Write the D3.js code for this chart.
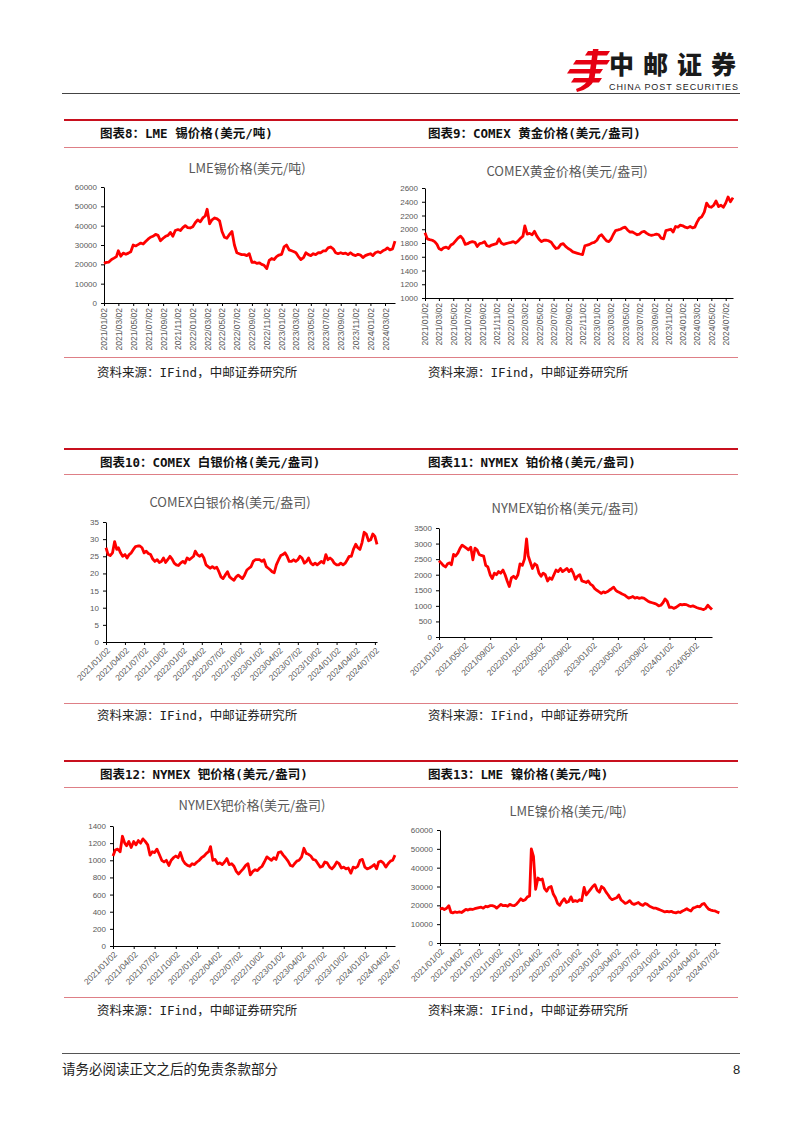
<!DOCTYPE html>
<html>
<head>
<meta charset="utf-8">
<script src="https://cdn.jsdelivr.net/npm/d3@7"></script>
<style>
  body { margin: 0; background: #fff; }
  svg { display: block; }
</style>
</head>
<body>
<script>
// prices, 3 samples a month (2nd, 12th, 22nd) starting 2021-01
const tinPrice = [
  20500, 21000, 21200,  22500, 23200, 24000,  27000, 24200, 25800,  25200, 25800, 26500,
  30000, 29500, 30200,  31000, 30500, 31800,  33000, 34000, 34500,  35500, 35000, 32200,
  33500, 34500, 35000,  36500, 34500, 37500,  38000, 37500, 39000,  40000, 39000, 38800,
  39500, 41500, 43000,  42000, 44000, 45000,  48500, 41000, 43000,  44000, 43500, 42500,
  37000, 34000, 33500,  35500, 37000, 30000,  26000, 25500, 25000,  25000, 24500, 25500,
  21000, 21200, 20500,  20800, 20000, 19500,  17800, 22000, 23000,  22500, 24000, 24800,
  25200, 29000, 30000,  27500, 27000, 26500,  26000, 24000, 22500,  23500, 26000, 25000,
  24500, 25500, 25000,  26000, 26000, 27000,  27000, 28500, 29000,  28000, 26000, 25500,
  26000, 25500, 25800,  25000, 26000, 25000,  24500, 25200, 24800,  23500, 24500, 25000,
  25500, 24500, 26000,  26500, 26000, 27000,  27500, 28500, 27500,  28000, 32000
];
const goldPrice = [
  1950, 1860, 1850,  1840, 1820, 1780,  1720, 1700, 1730,  1740, 1720, 1770,
  1790, 1830, 1870,  1900, 1860, 1780,  1790, 1810, 1820,  1810, 1750, 1790,
  1800, 1820, 1760,  1750, 1770, 1780,  1790, 1860, 1800,  1780, 1790, 1800,
  1810, 1820, 1800,  1830, 1870, 1900,  2050, 1930, 1940,  1920, 1970, 1900,
  1850, 1820, 1840,  1840, 1830, 1810,  1760, 1720, 1730,  1780, 1790, 1750,
  1720, 1700, 1670,  1660, 1650, 1640,  1630, 1760, 1770,  1780, 1800, 1810,
  1840, 1900, 1920,  1870, 1830, 1820,  1850, 1920, 1980,  1990, 2000, 2020,
  2030, 1990, 1960,  1960, 1940, 1920,  1930, 1960, 1970,  1940, 1920, 1910,
  1920, 1930, 1920,  1870, 1860, 1980,  1990, 2000, 1960,  2040, 2030, 2060,
  2050, 2030, 2020,  2040, 2020, 2030,  2100, 2160, 2180,  2250, 2380, 2330,
  2320, 2350, 2410,  2330, 2350, 2320,  2380, 2470, 2400,  2460
];
const silverPrice = [
  27.5, 25.5, 25.2,  26.0, 29.3, 27.0,  27.5, 26.0, 25.0,  25.5, 24.5, 25.5,
  26.0, 27.0, 27.8,  28.0, 28.0, 27.5,  26.0, 26.5, 25.8,  25.5, 24.2, 23.5,
  24.0, 23.2, 23.5,  24.5, 23.2, 24.0,  25.0, 24.2, 23.0,  22.5, 22.3, 23.0,
  23.5, 23.0, 24.5,  24.0, 24.5, 25.0,  26.5, 25.5, 25.0,  25.5, 24.5, 22.5,
  22.0, 21.5, 22.0,  21.5, 21.8, 20.5,  19.0, 18.5, 19.5,  20.5, 19.0, 18.5,
  18.0, 19.0, 19.5,  19.0, 18.5, 19.5,  21.0, 21.5, 22.0,  23.5, 24.0, 24.0,
  24.0, 23.5, 24.0,  22.0, 21.5, 21.0,  20.5, 20.2, 22.5,  24.0, 25.2, 25.5,
  26.0, 25.0, 23.5,  23.5, 24.0, 23.5,  24.0, 25.0, 24.5,  23.0, 23.5, 24.5,
  23.0, 22.5, 23.0,  22.5, 23.0, 23.5,  23.0, 25.5, 24.0,  24.5, 24.0, 23.0,
  22.5, 22.5, 23.0,  22.5, 23.0, 24.0,  25.0, 25.0, 27.0,  28.5, 27.5, 27.0,
  29.0, 32.0, 31.5,  29.5, 29.8, 31.5,  30.8, 28.5
];
const platinumPrice = [
  2450, 2380, 2300,  2250, 2350, 2380,  2320, 2650, 2600,  2700, 2850, 2950,
  2900, 2850, 2800,  2880, 2480, 2850,  2800, 2650, 2620,  2600, 2300, 2250,
  2000, 1880, 2050,  2000, 2100, 2050,  2150, 2000, 1800,  1620, 1900, 1950,
  1880, 2000, 2350,  2300, 2500, 3150,  2600, 2400, 2200,  2350, 2300, 2050,
  1950, 2050, 2000,  1800, 1900, 1850,  2000, 2150, 2100,  2200, 2100, 2150,
  2200, 2100, 2180,  2050, 1850, 1950,  2000, 1800, 1780,  1750, 1800, 1700,
  1650, 1550, 1500,  1450, 1400, 1450,  1420, 1450, 1500,  1550, 1600, 1500,
  1450, 1420, 1380,  1350, 1300, 1250,  1270, 1300, 1250,  1270, 1240, 1260,
  1250, 1200, 1150,  1120, 1100, 1080,  1050, 1000, 1020,  1100, 1220, 1150,
  950, 960, 920,  950, 1000, 1050,  1030, 1050, 1040,  1000, 980, 1000,
  970, 940, 920,  900, 880, 920,  1020, 950, 880
];
const palladiumPrice = [
  1050, 1120, 1130,  1100, 1280, 1200,  1170, 1220, 1150,  1220, 1180, 1230,
  1200, 1250, 1220,  1180, 1060, 1100,  1090, 1130, 1070,  1000, 980, 1000,
  940, 1000, 1030,  1050, 1030, 1090,  1000, 960, 940,  930, 960, 950,
  980, 1000, 1030,  1050, 1080, 1100,  1160, 1000, 1010,  960, 970, 950,
  980, 1020, 950,  960, 930, 870,  840, 870, 900,  940, 960, 830,
  870, 890, 880,  910, 930, 980,  1040, 1020, 1000,  1030, 1010, 1090,
  1100, 1060, 1030,  990, 940, 930,  960, 990, 1000,  1040, 1140, 1080,
  1070, 1050, 1010,  1000, 960, 920,  930, 980, 970,  920, 900, 930,
  980, 960, 910,  920, 900, 910,  850, 920, 910,  930, 1000, 1010,
  920, 900, 910,  930, 950, 900,  980, 990, 970,  920, 960, 990,
  1000, 1060
];
const nickelPrice = [
  18000, 18500, 17800,  18500, 19800, 16200,  16000, 16500, 16200,  16500, 16200, 17000,
  17800, 17500, 18000,  17800, 18200, 18500,  18800, 19000, 18500,  19500, 19200, 19800,
  19800, 19500, 18500,  19500, 20500, 19800,  20000, 19500, 20500,  20000, 19800, 20500,
  22000, 23500, 22500,  23000, 24500, 25000,  50000, 46000, 28500,  34500, 33500, 34000,
  29000, 27500, 29500,  30000, 26000, 24000,  21000, 20000, 22000,  23500, 21500, 22000,
  24500, 22000, 22500,  22000, 23000, 22500,  29500, 25500, 27000,  28500, 30000, 31000,
  28000, 27000, 30000,  29000, 27000, 25500,  24000, 23000, 23500,  24000, 25500, 23000,
  22000, 21000, 21500,  22500, 21000, 20500,  21000, 21500, 20500,  20000, 21000, 20500,
  19500, 19000, 18500,  18500, 18000, 17500,  17000, 16500, 16800,  16500, 16800, 16200,
  16000, 16500, 16200,  17000, 17500, 18200,  17500, 17000, 18500,  19000, 19500, 19200,
  20500, 21000, 19500,  18000, 17500, 17200,  17000, 16500, 16000
];

// axis ticks
const tonTicks = [0, 10000, 20000, 30000, 40000, 50000, 60000];
const goldTicks = [1000, 1200, 1400, 1600, 1800, 2000, 2200, 2400, 2600];
const silverTicks = [0, 5, 10, 15, 20, 25, 30, 35];
const platinumTicks = [0, 500, 1000, 1500, 2000, 2500, 3000, 3500];
const palladiumTicks = [0, 200, 400, 600, 800, 1000, 1200, 1400];

const twoMonthDates = ["2021/01/02", "2021/03/02", "2021/05/02", "2021/07/02", "2021/09/02", "2021/11/02",
  "2022/01/02", "2022/03/02", "2022/05/02", "2022/07/02", "2022/09/02", "2022/11/02",
  "2023/01/02", "2023/03/02", "2023/05/02", "2023/07/02", "2023/09/02", "2023/11/02",
  "2024/01/02", "2024/03/02", "2024/05/02", "2024/07/02"];
const tinDates = twoMonthDates.slice(0, 20);
const quarterDates = ["2021/01/02", "2021/04/02", "2021/07/02", "2021/10/02", "2022/01/02", "2022/04/02",
  "2022/07/02", "2022/10/02", "2023/01/02", "2023/04/02", "2023/07/02", "2023/10/02",
  "2024/01/02", "2024/04/02", "2024/07/02"];
const platinumDates = ["2021/01/02", "2021/05/02", "2021/09/02", "2022/01/02", "2022/05/02", "2022/09/02",
  "2023/01/02", "2023/05/02", "2023/09/02", "2024/01/02", "2024/05/02"];

const W = 802, H = 1133;
const cjk = "'Noto Sans CJK SC', sans-serif";
const mono = "'DejaVu Sans Mono', 'Noto Sans CJK SC', monospace";
const num = "'Liberation Sans', Arial, sans-serif";
const parseDay = d3.timeParse("%Y/%m/%d");
const fmtDay = d3.timeFormat("%Y/%m/%d");

const svg = d3.select("body").append("svg").attr("width", W).attr("height", H);

function sampleDate(i) {
  return new Date(2021, Math.floor(i / 3), 2 + (i % 3) * 10);
}

// ---- header ----
const logo = svg.append("g").attr("fill", "#e60012");
[[585, 51, 22], [573, 60, 34], [567, 69, 33], [571, 78, 28]].forEach(b => {
  logo.append("path")
    .attr("d", `M${b[0] + 3},${b[1]}h${b[2]}l-3,4.5h-${b[2]}z`);
});
logo.append("path")
  .attr("d", "M593,49 L598.5,49 L594.5,79 Q591,89 577,92 L576,89 Q587,85 589,77 Z");
svg.append("text").attr("x", 609).attr("y", 74)
  .attr("font-family", cjk).attr("font-weight", 900).attr("font-size", 25)
  .attr("letter-spacing", 9).attr("fill", "#1a1a1a").text("中邮证券");
svg.append("text").attr("x", 609).attr("y", 90)
  .attr("font-family", num).attr("font-size", 9).attr("textLength", 129)
  .attr("fill", "#222").text("CHINA POST SECURITIES");
svg.append("line").attr("x1", 62).attr("x2", 740).attr("y1", 93.5).attr("y2", 93.5)
  .attr("stroke", "#444").attr("stroke-width", 1);

// ---- section frames ----
const sections = [
  { top: 120, sub: 147, bottom: 357, src: 372, titles: ["图表8：LME 锡价格(美元/吨)", "图表9：COMEX 黄金价格(美元/盎司)"] },
  { top: 449, sub: 474, bottom: 703, src: 715, titles: ["图表10：COMEX 白银价格(美元/盎司)", "图表11：NYMEX 铂价格(美元/盎司)"] },
  { top: 761, sub: 787, bottom: 997, src: 1010, titles: ["图表12：NYMEX 钯价格(美元/盎司)", "图表13：LME 镍价格(美元/吨)"] }
];
sections.forEach(s => {
  svg.append("line").attr("x1", 64).attr("x2", 738).attr("y1", s.top).attr("y2", s.top)
    .attr("stroke", "#c8101e").attr("stroke-width", 2);
  [s.sub, s.bottom].forEach(yy => {
    svg.append("line").attr("x1", 64).attr("x2", 738).attr("y1", yy + 0.5).attr("y2", yy + 0.5)
      .attr("stroke", "#de7f86").attr("stroke-width", 1.2);
  });
  [100, 428].forEach((xx, k) => {
    svg.append("text").attr("x", xx).attr("y", s.top + 18)
      .attr("font-family", mono).attr("font-weight", "bold").attr("font-size", 12.5)
      .attr("fill", "#111").text(s.titles[k]);
  });
  [97, 428].forEach(xx => {
    svg.append("text").attr("x", xx).attr("y", s.src + 5)
      .attr("font-family", mono).attr("font-size", 12.5)
      .attr("fill", "#222").text("资料来源：IFind，中邮证券研究所");
  });
});

// ---- charts ----
const charts = [
  { values: tinPrice, title: "LME锡价格(美元/吨)", titleX: 247, titleY: 173,
    left: 104, right: 395, top: 187, bottom: 303, yTicks: tonTicks, xTicks: tinDates, end: "2024/04/12", rot: -90 },
  { values: goldPrice, title: "COMEX黄金价格(美元/盎司)", titleX: 567, titleY: 176,
    left: 425, right: 733, top: 188, bottom: 298, yTicks: goldTicks, xTicks: twoMonthDates, end: "2024/08/02", rot: -90 },
  { values: silverPrice, title: "COMEX白银价格(美元/盎司)", titleX: 230, titleY: 507,
    left: 106, right: 377, top: 522, bottom: 642, yTicks: silverTicks, xTicks: quarterDates, end: "2024/07/12", rot: -45 },
  { values: platinumPrice, title: "NYMEX铂价格(美元/盎司)", titleX: 565, titleY: 513,
    left: 439, right: 712, top: 528, bottom: 637, yTicks: platinumTicks, xTicks: platinumDates, end: "2024/07/22", rot: -45 },
  { values: palladiumPrice, title: "NYMEX钯价格(美元/盎司)", titleX: 252, titleY: 810,
    left: 113, right: 395, top: 826, bottom: 946, yTicks: palladiumTicks, xTicks: quarterDates, end: "2024/05/12", rot: -45, clip: 400 },
  { values: nickelPrice, title: "LME镍价格(美元/吨)", titleX: 568, titleY: 816,
    left: 440, right: 720, top: 830, bottom: 943, yTicks: tonTicks, xTicks: quarterDates, end: "2024/07/25", rot: -45 }
];

charts.forEach((c, ci) => {
  const g = svg.append("g");
  const x = d3.scaleTime()
    .domain([parseDay(c.xTicks[0]), parseDay(c.end)])
    .range([c.left, c.right]);
  const y = d3.scaleLinear()
    .domain([c.yTicks[0], c.yTicks[c.yTicks.length - 1]])
    .range([c.bottom, c.top]);

  g.append("text").attr("x", c.titleX).attr("y", c.titleY).attr("text-anchor", "middle")
    .attr("font-family", cjk).attr("font-size", 13).attr("fill", "#595959").text(c.title);

  const yAxis = g.append("g").attr("transform", `translate(${c.left},0)`)
    .call(d3.axisLeft(y).tickValues(c.yTicks).tickFormat(d3.format("d"))
      .tickSize(3).tickSizeOuter(0).tickPadding(4));

  const xAxis = g.append("g").attr("transform", `translate(0,${c.bottom})`)
    .call(d3.axisBottom(x).tickValues(c.xTicks.map(parseDay)).tickFormat(fmtDay)
      .tickSize(3).tickSizeOuter(0));

  if (c.clip) {
    svg.append("clipPath").attr("id", "clip" + ci)
      .append("rect").attr("x", 0).attr("y", 0).attr("width", c.clip).attr("height", H);
    xAxis.attr("clip-path", `url(#clip${ci})`);
  }

  [yAxis, xAxis].forEach(a => {
    a.select(".domain").attr("stroke", "#000").attr("stroke-width", 1);
    a.selectAll(".tick line").attr("stroke", "#000");
    a.selectAll("text").attr("fill", "#595959").attr("font-family", num);
  });
  yAxis.selectAll("text").attr("font-size", 8);
  xAxis.selectAll("text").attr("font-size", 8.5);

  if (c.rot === -90) {
    xAxis.selectAll("text")
      .attr("x", -5).attr("y", 0).attr("dy", "0.35em")
      .attr("transform", "rotate(-90)").attr("text-anchor", "end");
  } else {
    xAxis.selectAll("text")
      .attr("x", 0).attr("y", 0).attr("dy", "0.35em")
      .attr("transform", "translate(2,7) rotate(-45)").attr("text-anchor", "end");
  }

  const line = d3.line().x(d => x(d.date)).y(d => y(d.v));
  g.append("path")
    .datum(c.values.map((v, i) => ({ date: sampleDate(i), v: v })))
    .attr("d", line)
    .attr("fill", "none")
    .attr("stroke", "#ff0000")
    .attr("stroke-width", 2.8)
    .attr("stroke-linejoin", "round");
});

// ---- footer ----
svg.append("line").attr("x1", 62).attr("x2", 740).attr("y1", 1053.5).attr("y2", 1053.5)
  .attr("stroke", "#555").attr("stroke-width", 1.2);
svg.append("text").attr("x", 62).attr("y", 1074)
  .attr("font-family", cjk).attr("font-size", 13.5).attr("fill", "#222")
  .text("请务必阅读正文之后的免责条款部分");
svg.append("text").attr("x", 733).attr("y", 1074)
  .attr("font-family", num).attr("font-size", 13).attr("fill", "#222").text("8");
</script>
</body>
</html>
